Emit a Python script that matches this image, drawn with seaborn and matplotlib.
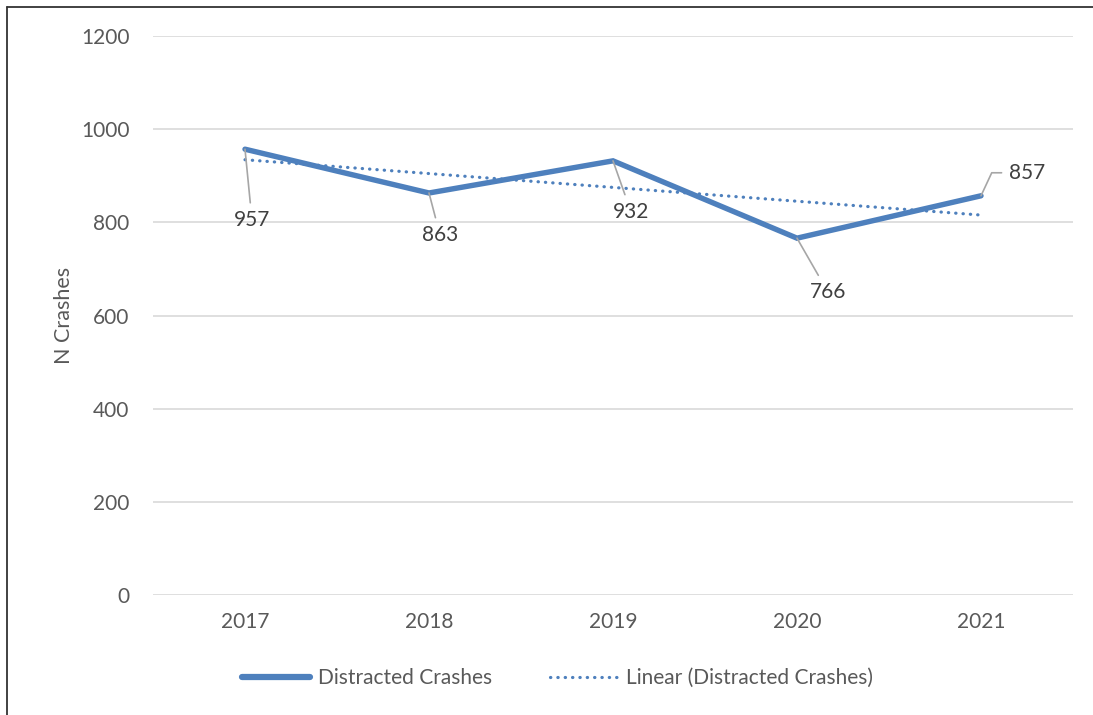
import numpy as np
import pandas as pd
import matplotlib
matplotlib.use("Agg")
import matplotlib.pyplot as plt
import seaborn as sns
from matplotlib.lines import Line2D

years = ["2017", "2018", "2019", "2020", "2021"]
crashes = [957, 863, 932, 766, 857]
yticks = [0, 200, 400, 600, 800, 1000, 1200]
# label offsets from the point, in pixels
label_offsets = [(7, -71), (11, -42), (18, -51), (31, -54), (28, 23)]

sns.set_theme(style="white")
plt.rcParams["font.family"] = ["Lato", "DejaVu Sans"]

blue = "#4E80BD"
gray_txt = "#595959"

df = pd.DataFrame({"pos": np.arange(len(years)), "year": years, "crashes": crashes})

fig = plt.figure(figsize=(10.93, 7.15), dpi=100)
ax = fig.add_axes([153 / 1093, 1 - 595 / 715, 920 / 1093, 559 / 715])

sns.lineplot(data=df, x="pos", y="crashes", ax=ax, color=blue, lw=3.9,
             solid_capstyle="round", solid_joinstyle="miter", zorder=3)
sns.regplot(data=df, x="pos", y="crashes", ax=ax, scatter=False, ci=None,
            color=blue, line_kws=dict(ls=(0, (0.1, 2.2)), lw=2.3,
                                      dash_capstyle="round"))

for i, (v, off) in enumerate(zip(crashes, label_offsets)):
    if i == len(crashes) - 1:
        ax.annotate(str(v), xy=(i, v), xytext=off, textcoords="offset pixels",
                    ha="left", va="center", fontsize=15, color="#404040",
                    arrowprops=dict(arrowstyle="-", color="#A6A6A6", lw=1.2,
                                    shrinkA=3, shrinkB=0, relpos=(0, 0.5),
                                    connectionstyle="angle,angleA=0,angleB=65,rad=0"))
    else:
        ax.annotate(str(v), xy=(i, v), xytext=off, textcoords="offset pixels",
                    ha="center", va="center", fontsize=15, color="#404040",
                    arrowprops=dict(arrowstyle="-", color="#A6A6A6", lw=1.2,
                                    shrinkA=3, shrinkB=0))

ax.set_xlim(-0.5, 4.5)
ax.set_ylim(0, 1200)
ax.set_xticks(df["pos"])
ax.set_xticklabels(years)
ax.set_yticks(yticks)
ax.tick_params(axis="both", length=0, labelsize=15, labelcolor=gray_txt, pad=17)
ax.tick_params(axis="x", pad=12)
ax.grid(axis="y", color="#D9D9D9", lw=1.2)
ax.set_axisbelow(True)
for s in ax.spines.values():
    s.set_visible(False)
ax.set_xlabel("")
ax.set_ylabel("N Crashes", fontsize=15.5, color=gray_txt, labelpad=5)

handles = [Line2D([], [], color=blue, lw=4.5, solid_capstyle="round"),
           Line2D([], [], color=blue, lw=2.3, ls=(0, (0.1, 2.2)), dash_capstyle="round")]
fig.legend(handles, ["Distracted Crashes", "Linear (Distracted Crashes)"],
           loc="center", bbox_to_anchor=(0.51, 1 - 678 / 715), ncol=2, frameon=False,
           fontsize=15, labelcolor=gray_txt, handlelength=3.3, columnspacing=2.8,
           handletextpad=0.35)

# top and left border of the chart area
fig.add_artist(Line2D([7 / 1093, 1], [1 - 7 / 715, 1 - 7 / 715], color="#333333", lw=1.3,
                      transform=fig.transFigure))
fig.add_artist(Line2D([7 / 1093, 7 / 1093], [0, 1 - 7 / 715], color="#333333", lw=1.3,
                      transform=fig.transFigure))

fig.savefig("out.png", dpi=100)
